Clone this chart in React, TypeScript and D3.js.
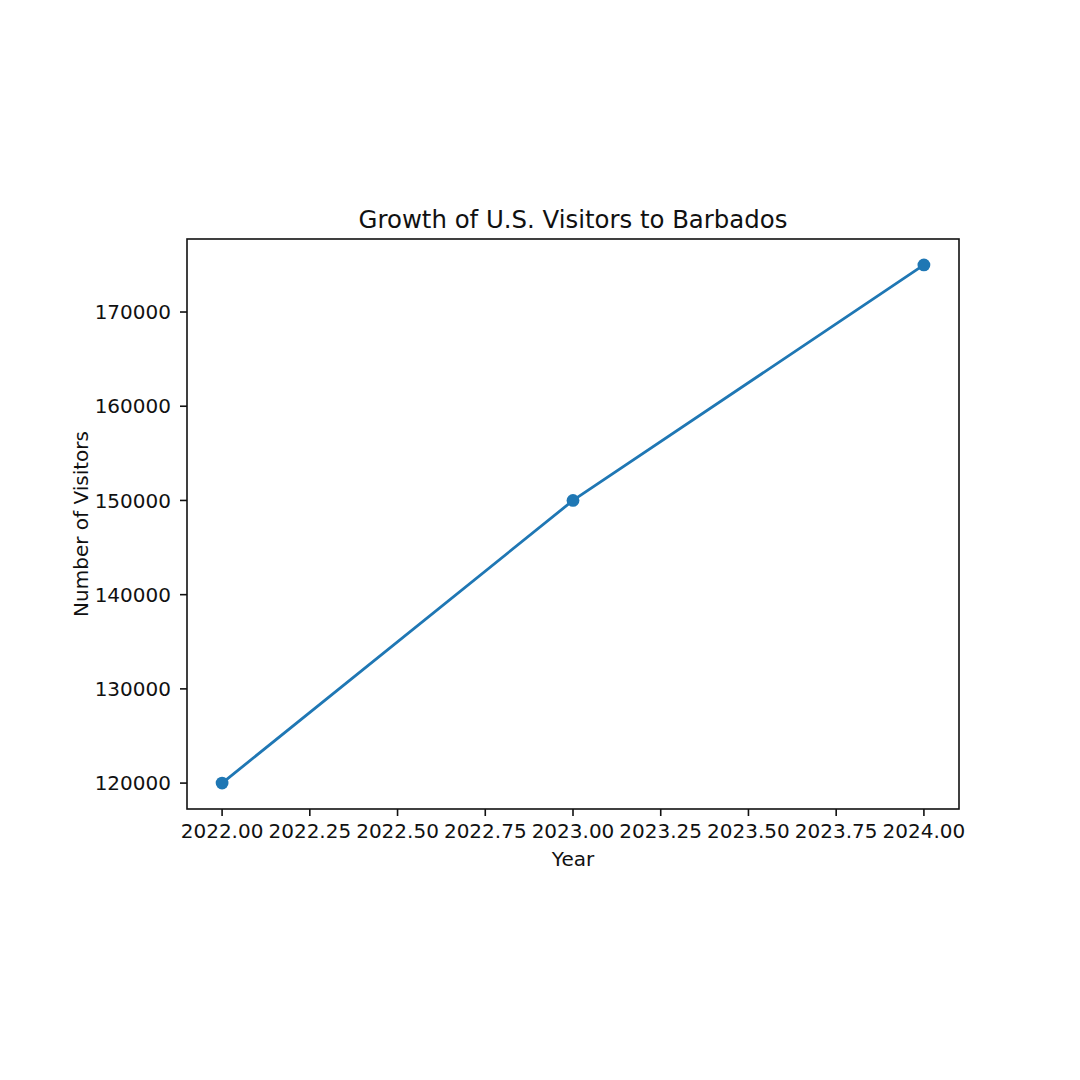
import * as d3 from 'd3';

const years = [2022, 2023, 2024];
const visitors = [120000, 150000, 175000];
const xTicks = [2022, 2022.25, 2022.5, 2022.75, 2023, 2023.25, 2023.5, 2023.75, 2024];
const yTicks = [120000, 130000, 140000, 150000, 160000, 170000];
const title = 'Growth of U.S. Visitors to Barbados';
const xLabel = 'Year';
const yLabel = 'Number of Visitors';

const W = 1080;
const H = 1080;
const box = { left: 187, right: 959, top: 239, bottom: 809 };
const font = 'DejaVu Sans, sans-serif';
const blue = '#1f77b4';

// matplotlib style 5% margins
const pad = (ext: [number, number]) => {
  const m = (ext[1] - ext[0]) * 0.05;
  return [ext[0] - m, ext[1] + m];
};

export default function App() {
  const x = d3
    .scaleLinear()
    .domain(pad(d3.extent(years) as [number, number]))
    .range([box.left, box.right]);
  const y = d3
    .scaleLinear()
    .domain(pad(d3.extent(visitors) as [number, number]))
    .range([box.bottom, box.top]);

  const pts = years.map((yr, i) => [yr, visitors[i]] as [number, number]);
  const line = d3
    .line<[number, number]>()
    .x((d) => x(d[0]))
    .y((d) => y(d[1]));

  const tickLen = 7;

  return (
    <svg
      width={W}
      height={H}
      style={{ position: 'absolute', left: 0, top: 0, background: '#fff' }}
      fontFamily={font}
    >
      <rect width={W} height={H} fill="#fff" />

      <path d={line(pts) ?? ''} fill="none" stroke={blue} strokeWidth={2.8} />
      {pts.map((d, i) => (
        <circle key={i} cx={x(d[0])} cy={y(d[1])} r={6.4} fill={blue} />
      ))}

      <rect
        x={box.left}
        y={box.top}
        width={box.right - box.left}
        height={box.bottom - box.top}
        fill="none"
        stroke="#111"
        strokeWidth={1.6}
      />

      {/* x axis */}
      {xTicks.map((t) => (
        <g key={t}>
          <line x1={x(t)} x2={x(t)} y1={box.bottom} y2={box.bottom + tickLen} stroke="#111" strokeWidth={1.6} />
          <text x={x(t)} y={838} fontSize={20} textAnchor="middle" fill="#111">
            {t.toFixed(2)}
          </text>
        </g>
      ))}
      <text x={(box.left + box.right) / 2} y={866} fontSize={20} textAnchor="middle" fill="#111">
        {xLabel}
      </text>

      {/* y axis */}
      {yTicks.map((t) => (
        <g key={t}>
          <line x1={box.left - tickLen} x2={box.left} y1={y(t)} y2={y(t)} stroke="#111" strokeWidth={1.6} />
          <text x={171} y={y(t)} dy="0.36em" fontSize={20} textAnchor="end" fill="#111">
            {t}
          </text>
        </g>
      ))}
      <text
        transform={`translate(88,${(box.top + box.bottom) / 2}) rotate(-90)`}
        fontSize={20}
        textAnchor="middle"
        fill="#111"
      >
        {yLabel}
      </text>

      <text x={(box.left + box.right) / 2} y={228} fontSize={24.4} textAnchor="middle" fill="#111">
        {title}
      </text>
    </svg>
  );
}
